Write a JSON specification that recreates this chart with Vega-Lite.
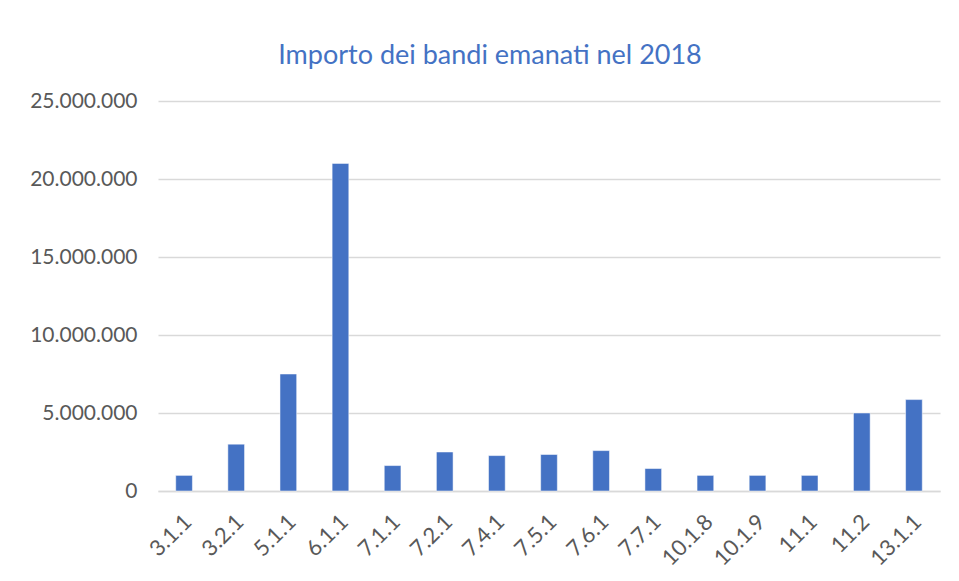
{
  "$schema": "https://vega.github.io/schema/vega-lite/v6.json",
  "autosize": "none",
  "width": 782,
  "height": 390,
  "padding": {"left": 158, "top": 101, "right": 19, "bottom": 90},
  "background": "white",
  "title": {
    "text": "Importo dei bandi emanati nel 2018",
    "font": "Lato",
    "fontSize": 27,
    "fontWeight": "normal",
    "color": "#4472C4",
    "anchor": "middle",
    "frame": "group",
    "dx": -59,
    "baseline": "alphabetic",
    "offset": -1
  },
  "data": {
    "values": [
      {"misura": "3.1.1", "importo": 1000000},
      {"misura": "3.2.1", "importo": 3000000},
      {"misura": "5.1.1", "importo": 7500000},
      {"misura": "6.1.1", "importo": 21000000},
      {"misura": "7.1.1", "importo": 1630000},
      {"misura": "7.2.1", "importo": 2500000},
      {"misura": "7.4.1", "importo": 2270000},
      {"misura": "7.5.1", "importo": 2340000},
      {"misura": "7.6.1", "importo": 2590000},
      {"misura": "7.7.1", "importo": 1440000},
      {"misura": "10.1.8", "importo": 1000000},
      {"misura": "10.1.9", "importo": 1000000},
      {"misura": "11.1", "importo": 1000000},
      {"misura": "11.2", "importo": 5000000},
      {"misura": "13.1.1", "importo": 5860000}
    ]
  },
  "mark": {"type": "bar", "color": "#4472C4", "stroke": "#ffffff", "strokeWidth": 0.5},
  "encoding": {
    "x": {
      "field": "misura",
      "type": "nominal",
      "sort": null,
      "scale": {"paddingInner": 0.68, "paddingOuter": 0.34},
      "axis": {
        "title": null,
        "labelAngle": -45,
        "labelAlign": "right",
        "labelBaseline": "middle",
        "labelFont": "Lato",
        "labelFontSize": 22,
        "labelColor": "#595959",
        "labelPadding": 27,
        "labelOffset": 4,
        "ticks": false,
        "domainColor": "#D9D9D9",
        "domainWidth": 1.5
      }
    },
    "y": {
      "field": "importo",
      "type": "quantitative",
      "scale": {"domain": [0, 25000000]},
      "axis": {
        "title": null,
        "values": [0, 5000000, 10000000, 15000000, 20000000, 25000000],
        "labelExpr": "replace(format(datum.value, ','), /,/g, '.')",
        "labelFont": "Lato",
        "labelFontSize": 21,
        "labelColor": "#595959",
        "labelPadding": 21,
        "ticks": false,
        "domain": false,
        "gridColor": "#D9D9D9",
        "gridWidth": 1.5
      }
    }
  },
  "config": {"view": {"stroke": null}}
}
